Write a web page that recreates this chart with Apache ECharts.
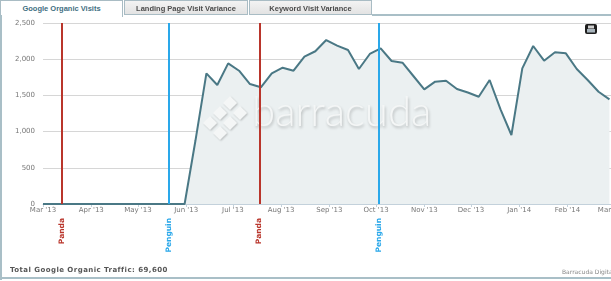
<!DOCTYPE html>
<html><head><meta charset="utf-8">
<script src="https://cdn.jsdelivr.net/npm/echarts@6/dist/echarts.min.js"></script>
<style>
html,body{margin:0;padding:0;background:#fff;overflow:hidden;}
#wrap{position:relative;width:611px;height:281px;}
#chart{position:absolute;left:0;top:0;width:611px;height:281px;}
.tab{position:absolute;top:0;height:15px;box-sizing:border-box;font:bold 7.5px "Liberation Sans",Arial,sans-serif;text-align:center;line-height:15px;border:1px solid #a9bcc4;}
#t1{left:0;width:123px;background:#fff;color:#3f6f82;border-bottom:none;height:17px;}
#t2{left:124px;width:124px;background:linear-gradient(#f3f3f3,#e3e3e3);color:#4b4b4b;}
#t3{left:249px;width:123px;background:linear-gradient(#f3f3f3,#e3e3e3);color:#4b4b4b;}
#bar{position:absolute;left:372px;top:14px;width:239px;height:2px;background:#a9bfc7;}
#lb{position:absolute;left:0;top:15px;width:2px;height:265px;background:#a9bfc7;}
#bb{position:absolute;left:0;top:277px;width:611px;height:2px;background:#a9bfc7;}
#foot{position:absolute;left:10px;top:266px;font:bold 7px "DejaVu Sans",Verdana,sans-serif;color:#555;letter-spacing:0.45px;}
#cred{position:absolute;left:562px;top:268px;font:6px "DejaVu Sans",Verdana,sans-serif;color:#888;white-space:nowrap;}
</style></head>
<body><div id="wrap">
<div id="chart"></div>
<div class="tab" id="t1">Google Organic Visits</div>
<div class="tab" id="t2">Landing Page Visit Variance</div>
<div class="tab" id="t3">Keyword Visit Variance</div>
<div id="bar"></div><div id="lb"></div><div id="bb"></div>
<div id="foot">Total Google Organic Traffic: 69,600</div>
<div id="cred">Barracuda Digital</div>
</div>
<script>
const weekDates = ['2013-03-01','2013-03-08','2013-03-15','2013-03-22','2013-03-29',
 '2013-04-05','2013-04-12','2013-04-19','2013-04-26',
 '2013-05-03','2013-05-10','2013-05-17','2013-05-24','2013-05-31',
 '2013-06-07','2013-06-14','2013-06-21','2013-06-28',
 '2013-07-05','2013-07-12','2013-07-19','2013-07-26',
 '2013-08-02','2013-08-09','2013-08-16','2013-08-23','2013-08-30',
 '2013-09-06','2013-09-13','2013-09-20','2013-09-27',
 '2013-10-04','2013-10-11','2013-10-18','2013-10-25',
 '2013-11-01','2013-11-08','2013-11-15','2013-11-22','2013-11-29',
 '2013-12-06','2013-12-13','2013-12-20','2013-12-27',
 '2014-01-03','2014-01-10','2014-01-17','2014-01-24','2014-01-31',
 '2014-02-07','2014-02-14','2014-02-21','2014-02-28'];
const visits = [0,0,0,0,0, 0,0,0,0, 0,0,0,0,0,
 880,1805,1644,1943, 1841,1657,1612,1805,
 1883,1841,2035,2110,2265, 2187,2127,1865,2072,
 2150,1975,1952,1768, 1584,1690,1703,1588,1540,
 1482,1713,1308,953, 1874,2182,1979,2095,2081,
 1865,1713,1551,1446];
const updateNames = ['Panda','Penguin','Panda','Penguin'];
const updateDates = ['2013-03-13','2013-05-21','2013-07-18','2013-10-03'];
const updateColors = ['#b9352b','#2aa8ea','#b9352b','#2aa8ea'];
const monthNames = ['Jan','Feb','Mar','Apr','May','Jun','Jul','Aug','Sep','Oct','Nov','Dec'];
const yTicks = {min:0, max:2500, step:500};
const axisFrom = '2013-03-01', axisTo = '2014-03-01';

const ts = s => new Date(s + 'T00:00:00').getTime();
const chart = echarts.init(document.getElementById('chart'), null, {renderer:'canvas'});
const fontFam = '"DejaVu Sans", Verdana, sans-serif';

chart.setOption({
  animation:false,
  grid:{left:43, right:0, top:23, bottom:77, containLabel:false, outerBoundsMode:'none'},
  xAxis:{
    type:'time', min:ts(axisFrom), max:ts(axisTo), splitNumber:12,
    minInterval:28*86400000,
    axisLine:{show:true, lineStyle:{color:'#c3d1db', width:1}},
    axisTick:{show:true, length:3, lineStyle:{color:'#c3d1db'}},
    splitLine:{show:false},
    axisLabel:{fontSize:7, color:'#777', fontFamily:fontFam, margin:3, showMinLabel:true, showMaxLabel:true, hideOverlap:false,
      formatter:function(v){const d=new Date(v); return monthNames[d.getMonth()]+" '"+String(d.getFullYear()).slice(2);}}
  },
  yAxis:{
    type:'value', min:yTicks.min, max:yTicks.max, interval:yTicks.step,
    axisLine:{show:false}, axisTick:{show:false},
    splitLine:{lineStyle:{color:'#d6d6d6', width:1}},
    axisLabel:{fontSize:7, color:'#777', fontFamily:fontFam, margin:8,
      formatter:function(v){return v.toLocaleString('en-US');}}
  },
  series:[{
    type:'line', data:weekDates.map((d,i)=>[ts(d), visits[i]]),
    showSymbol:false, symbol:'none',
    lineStyle:{color:'#4a7885', width:2},
    areaStyle:{color:'#ebf0f1', opacity:1},
    z:3,
    markLine:{
      silent:true, symbol:['none','none'], label:{show:false}, animation:false,
      data: updateDates.map((d,i)=>({xAxis:ts(d), lineStyle:{color:updateColors[i], width:2, type:'solid'}}))
    }
  }]
});

const g = [];
// watermark
g.push({type:'text', z:4, x:252, y:91, silent:true,
  style:{text:'barracuda', font:'300 42px Lato, "Open Sans", sans-serif', fill:'#f4f6f6',
    shadowColor:'rgba(0,0,0,0.22)', shadowBlur:3, shadowOffsetX:1, shadowOffsetY:2,
    textShadowColor:'rgba(0,0,0,0.22)', textShadowBlur:3, textShadowOffsetX:1, textShadowOffsetY:2}});
const dia = [[230,103],[240,113],[230,123],[220,113],[210,123],[220,133]];
dia.forEach(p=>g.push({type:'rect', z:4, silent:true, x:p[0], y:p[1], rotation:Math.PI/4,
  shape:{x:-5,y:-5,width:10,height:10},
  style:{fill:'#f4f6f6', shadowColor:'rgba(0,0,0,0.2)', shadowBlur:2, shadowOffsetX:1, shadowOffsetY:1}}));
// print icon
g.push({type:'rect', z:10, silent:true, shape:{x:585,y:24,width:12,height:10,r:2}, style:{fill:'#1e1e1e'}});
g.push({type:'rect', z:11, silent:true, shape:{x:588,y:25.5,width:6,height:3}, style:{fill:'#d0d0d0'}});
g.push({type:'rect', z:11, silent:true, shape:{x:587,y:29,width:8,height:3.5}, style:{fill:'#a8b4bc'}});
// update labels
updateDates.forEach((d,i)=>{
  const px = chart.convertToPixel({xAxisIndex:0}, ts(d));
  g.push({type:'text', z:10, silent:true, x:px, y:218, rotation:Math.PI/2,
    style:{text:updateNames[i], textAlign:'right', textVerticalAlign:'middle', align:'right', verticalAlign:'middle',
      font:'bold 7.5px '+fontFam, fill:updateColors[i]}});
});
chart.setOption({graphic:g});
</script>
</body></html>
